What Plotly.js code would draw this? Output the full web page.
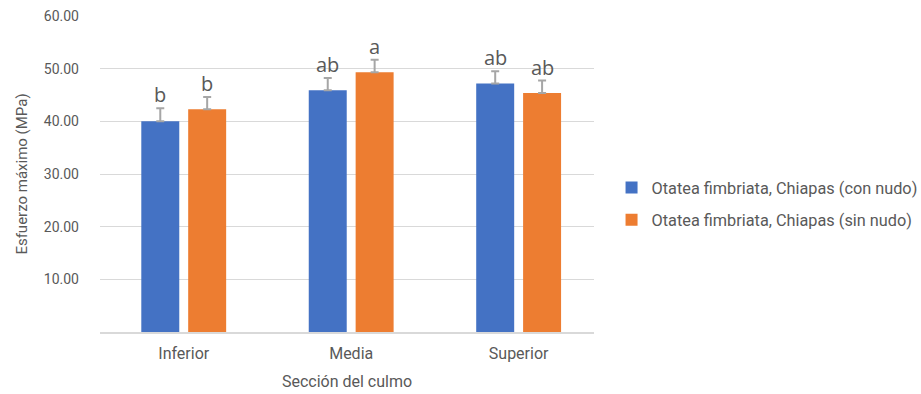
<!DOCTYPE html>
<html>
<head>
<meta charset="utf-8">
<script src="https://cdn.plot.ly/plotly-3.0.1.min.js"></script>
<style>html,body{margin:0;padding:0;background:#fff;}#chart{width:921px;height:394px;}</style>
</head>
<body>
<div id="chart"></div>
<script>
const categories = ["Inferior", "Media", "Superior"];
const seriesNames = ["Otatea fimbriata, Chiapas (con nudo)", "Otatea fimbriata, Chiapas (sin nudo)"];
const conNudo = [40.0, 45.9, 47.2];
const sinNudo = [42.3, 49.3, 45.4];
const conNudoErr = [2.5, 2.35, 2.3];
const sinNudoErr = [2.3, 2.4, 2.35];
const conNudoLetters = ["b", "ab", "ab"];
const sinNudoLetters = ["b", "a", "ab"];
const yTickVals = [10, 20, 30, 40, 50, 60];
const yTickText = ["10.00", "20.00", "30.00", "40.00", "50.00", "60.00"];

const FONT = '"Roboto", sans-serif';
const GRAY = '#595959';
const BARGAP = 0.44, GROUPGAP = 0.19;
const slot = (1 - BARGAP) / 2;
const off = slot / 2;

function errSpec(arr) {
  return {type: 'data', symmetric: false, array: arr, arrayminus: arr.map(() => 0),
          color: '#a6a6a6', thickness: 2, width: 4};
}

const traces = [
  {type: 'bar', name: seriesNames[0], x: categories, y: conNudo, marker: {color: '#4472C4'},
   error_y: errSpec(conNudoErr), legendgroup: 'g1', hoverinfo: 'none'},
  {type: 'bar', name: seriesNames[1], x: categories, y: sinNudo, marker: {color: '#ED7D31'},
   error_y: errSpec(sinNudoErr), legendgroup: 'g2', hoverinfo: 'none'}
];

const annotations = [];
const letterFont = {family: '"Open Sans", sans-serif', size: 20, color: GRAY};
categories.forEach((c, i) => {
  annotations.push({x: i - off, y: conNudo[i] + conNudoErr[i], xref: 'x', yref: 'y', text: conNudoLetters[i],
    showarrow: false, yanchor: 'bottom', yshift: -2, font: letterFont});
  annotations.push({x: i + off, y: sinNudo[i] + sinNudoErr[i], xref: 'x', yref: 'y', text: sinNudoLetters[i],
    showarrow: false, yanchor: 'bottom', yshift: -2, font: letterFont});
});

const layout = {
  width: 921, height: 394,
  margin: {l: 100, r: 327, t: 16, b: 62},
  paper_bgcolor: '#ffffff', plot_bgcolor: '#ffffff',
  font: {family: FONT, color: GRAY},
  barmode: 'group', bargap: BARGAP, bargroupgap: GROUPGAP,
  showlegend: true,
  legend: {x: 0.664, xref: 'container', xanchor: 'left', y: 0.405, yanchor: 'middle',
           font: {family: FONT, size: 16.3, color: GRAY}, traceorder: 'grouped', tracegroupgap: 8,
           itemwidth: 30, bgcolor: 'rgba(0,0,0,0)'},
  xaxis: {type: 'category', range: [-0.5, 2.45], showgrid: false, showline: true, linecolor: '#d9d9d9',
          linewidth: 1.5, ticks: '', tickfont: {size: 16, color: GRAY}, ticklabelstandoff: 6,
          title: {text: 'Sección del culmo', font: {size: 16, color: GRAY}, standoff: 14}, fixedrange: true},
  yaxis: {range: [0, 60], tickvals: yTickVals, ticktext: yTickText, showgrid: true, gridcolor: '#d9d9d9',
          gridwidth: 1, zeroline: false, showline: false, ticks: '', tickfont: {size: 14, color: GRAY},
          ticklabelstandoff: 20,
          title: {text: 'Esfuerzo máximo (MPa)', font: {size: 15, color: GRAY}, standoff: 12}, fixedrange: true},
  annotations: annotations
};

Plotly.newPlot('chart', traces, layout, {displayModeBar: false, staticPlot: true});
</script>
</body>
</html>
